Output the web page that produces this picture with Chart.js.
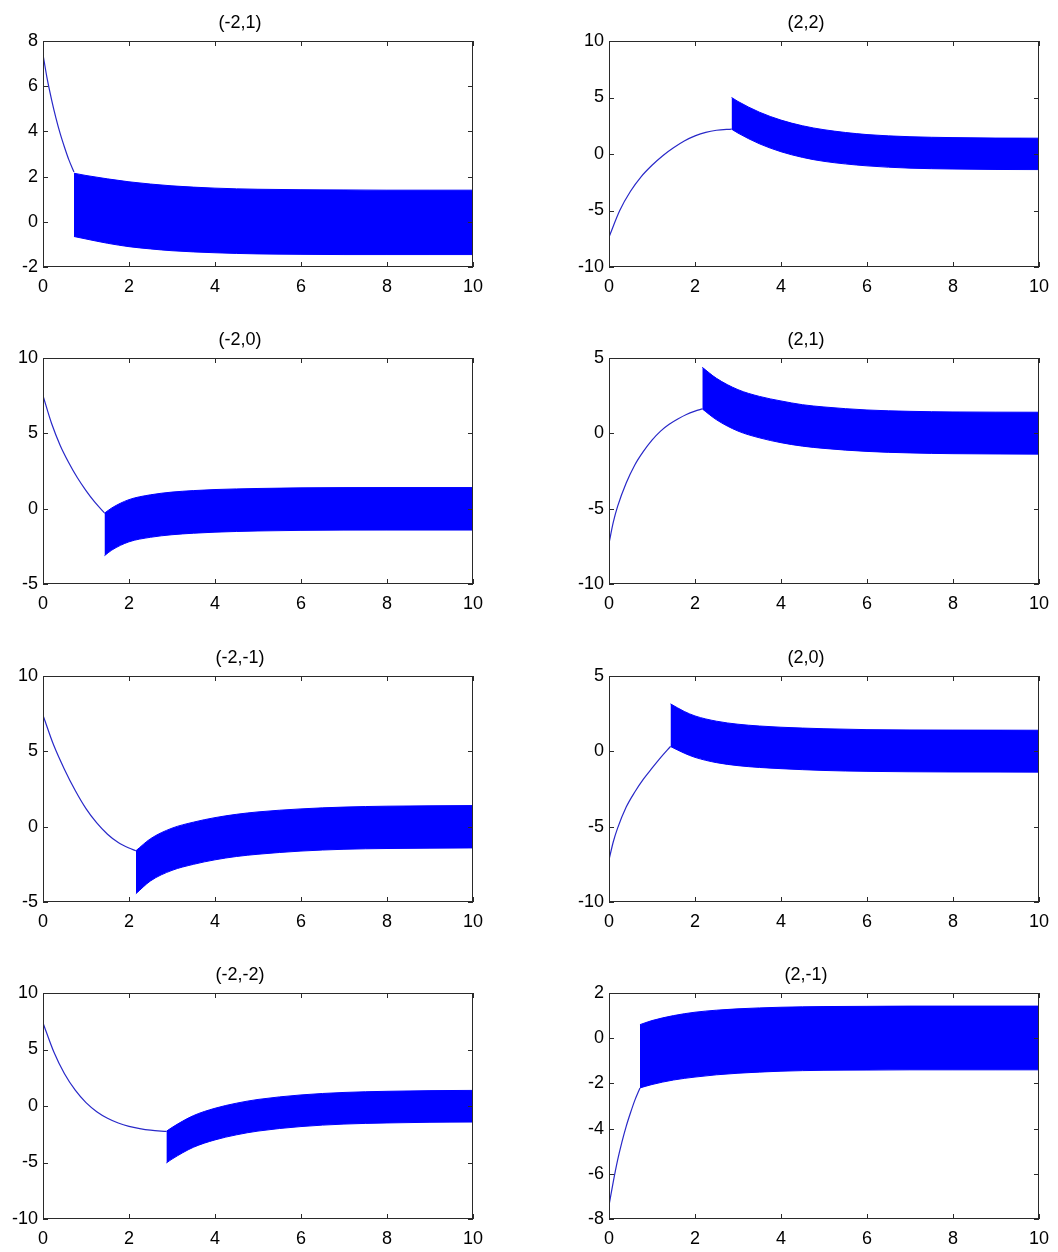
<!DOCTYPE html>
<html>
<head>
<meta charset="utf-8">
<script src="https://cdn.jsdelivr.net/npm/chart.js@4"></script>
<style>
  body { margin: 0; background: #fff; }
  #wrap { position: relative; width: 1058px; height: 1252px; }
  #wrap canvas { position: absolute; }
</style>
</head>
<body>
<div id="wrap"></div>
<script>
// panel order: left column top->bottom, right column top->bottom (row by row)
const titles = ["(-2,1)", "(2,2)", "(-2,0)", "(2,1)", "(-2,-1)", "(2,0)", "(-2,-2)", "(2,-1)"];
const yMin = [-2, -10, -5, -10, -5, -10, -10, -8];
const yMax = [8, 10, 10, 5, 10, 5, 10, 2];
const yStep = [2, 5, 5, 5, 5, 5, 5, 2];
const xTicks = [0, 2, 4, 6, 8, 10];

// (-2,1)
const curveT1 = [0, 0.1, 0.2, 0.3, 0.4, 0.5, 0.6, 0.72];
const curveY1 = [7.4, 6.3, 5.4, 4.6, 3.9, 3.3, 2.75, 2.2];
const bandT1 = [0.72, 1, 1.5, 2, 2.5, 3, 4, 5, 6, 7, 8, 9, 10];
const bandUp1 = [2.15, 2.05, 1.9, 1.77, 1.67, 1.59, 1.49, 1.44, 1.42, 1.41, 1.4, 1.4, 1.4];
const bandLo1 = [-0.65, -0.76, -0.95, -1.1, -1.2, -1.28, -1.37, -1.42, -1.44, -1.45, -1.45, -1.45, -1.45];

// (2,2)
const curveT2 = [0, 0.25, 0.5, 0.75, 1, 1.25, 1.5, 1.75, 2, 2.25, 2.5, 2.85];
const curveY2 = [-7.35, -5.0, -3.3, -2.0, -1.0, -0.15, 0.55, 1.15, 1.6, 1.92, 2.1, 2.2];
const bandT2 = [2.85, 3, 3.5, 4, 4.5, 5, 6, 7, 8, 9, 10];
const bandUp2 = [5.0, 4.65, 3.7, 3.0, 2.5, 2.15, 1.72, 1.53, 1.45, 1.41, 1.4];
const bandLo2 = [2.2, 1.85, 0.9, 0.2, -0.3, -0.65, -1.05, -1.25, -1.33, -1.37, -1.38];

// (-2,0)
const curveT3 = [0, 0.2, 0.4, 0.6, 0.8, 1.0, 1.2, 1.43];
const curveY3 = [7.5, 5.65, 4.2, 3.05, 2.05, 1.2, 0.45, -0.28];
const bandT3 = [1.43, 1.6, 2, 2.5, 3, 3.5, 4, 5, 6, 8, 10];
const bandUp3 = [-0.3, 0.05, 0.6, 0.92, 1.1, 1.2, 1.27, 1.34, 1.38, 1.4, 1.4];
const bandLo3 = [-3.12, -2.75, -2.2, -1.9, -1.73, -1.63, -1.56, -1.48, -1.44, -1.42, -1.42];

// (2,1)
const curveT4 = [0, 0.1, 0.2, 0.4, 0.6, 0.8, 1.0, 1.2, 1.4, 1.6, 1.8, 2.0, 2.17];
const curveY4 = [-7.3, -5.9, -4.85, -3.3, -2.1, -1.2, -0.45, 0.15, 0.6, 0.95, 1.25, 1.47, 1.62];
const bandT4 = [2.17, 2.5, 3, 3.5, 4, 4.5, 5, 6, 7, 8, 10];
const bandUp4 = [4.38, 3.65, 2.9, 2.45, 2.15, 1.9, 1.75, 1.55, 1.46, 1.42, 1.4];
const bandLo4 = [1.62, 0.9, 0.15, -0.3, -0.62, -0.85, -1.0, -1.2, -1.3, -1.35, -1.38];

// (-2,-1)
const curveT5 = [0, 0.25, 0.5, 0.75, 1.0, 1.25, 1.5, 1.75, 2.0, 2.16];
const curveY5 = [7.4, 5.4, 3.8, 2.4, 1.2, 0.25, -0.5, -1.05, -1.42, -1.6];
const bandT5 = [2.16, 2.5, 3, 3.5, 4, 4.5, 5, 6, 7, 8, 10];
const bandUp5 = [-1.6, -0.8, -0.1, 0.3, 0.6, 0.82, 0.98, 1.18, 1.3, 1.36, 1.4];
const bandLo5 = [-4.45, -3.6, -2.9, -2.5, -2.2, -1.98, -1.83, -1.62, -1.5, -1.45, -1.41];

// (2,0)
const curveT6 = [0, 0.1, 0.2, 0.4, 0.6, 0.8, 1.0, 1.2, 1.43];
const curveY6 = [-7.2, -6.0, -5.1, -3.7, -2.7, -1.85, -1.12, -0.42, 0.32];
const bandT6 = [1.43, 1.75, 2, 2.5, 3, 3.5, 4, 5, 6, 8, 10];
const bandUp6 = [3.15, 2.65, 2.35, 2.0, 1.8, 1.68, 1.6, 1.5, 1.44, 1.41, 1.4];
const bandLo6 = [0.32, -0.12, -0.4, -0.75, -0.95, -1.07, -1.15, -1.27, -1.33, -1.37, -1.38];

// (-2,-2)
const curveT7 = [0, 0.25, 0.5, 0.75, 1.0, 1.25, 1.5, 1.75, 2.0, 2.25, 2.5, 2.87];
const curveY7 = [7.35, 4.8, 2.85, 1.4, 0.3, -0.5, -1.08, -1.5, -1.8, -2.0, -2.14, -2.25];
const bandT7 = [2.87, 3, 3.5, 4, 4.5, 5, 6, 7, 8, 9, 10];
const bandUp7 = [-2.24, -1.9, -0.85, -0.2, 0.25, 0.58, 0.98, 1.2, 1.3, 1.36, 1.38];
const bandLo7 = [-5.04, -4.7, -3.65, -3.0, -2.55, -2.22, -1.82, -1.6, -1.5, -1.44, -1.42];

// (2,-1)
const curveT8 = [0, 0.1, 0.2, 0.3, 0.4, 0.5, 0.6, 0.72];
const curveY8 = [-7.4, -6.35, -5.4, -4.6, -3.9, -3.3, -2.75, -2.2];
const bandT8 = [0.72, 1, 1.5, 2, 2.5, 3, 4, 5, 6, 7, 8, 9, 10];
const bandUp8 = [0.6, 0.78, 1.0, 1.15, 1.24, 1.3, 1.37, 1.4, 1.41, 1.42, 1.42, 1.42, 1.42];
const bandLo8 = [-2.2, -2.05, -1.85, -1.72, -1.62, -1.55, -1.46, -1.42, -1.41, -1.4, -1.4, -1.4, -1.4];

const curvesT = [curveT1, curveT2, curveT3, curveT4, curveT5, curveT6, curveT7, curveT8];
const curvesY = [curveY1, curveY2, curveY3, curveY4, curveY5, curveY6, curveY7, curveY8];
const bandsT = [bandT1, bandT2, bandT3, bandT4, bandT5, bandT6, bandT7, bandT8];
const bandsUp = [bandUp1, bandUp2, bandUp3, bandUp4, bandUp5, bandUp6, bandUp7, bandUp8];
const bandsLo = [bandLo1, bandLo2, bandLo3, bandLo4, bandLo5, bandLo6, bandLo7, bandLo8];

const FONT = { family: "'Liberation Sans', Arial, sans-serif", size: 18 };
const colLeft = [0, 566];
const rowTop = [0, 317, 635, 952];

function pts(xs, ys) {
  return xs.map((x, i) => ({ x: x, y: ys[i] }));
}

// matlab style box with inward ticks on all four sides
const boxTicks = {
  id: "boxTicks",
  afterDatasetsDraw(chart) {
    const { ctx, chartArea: a, scales } = chart;
    const x = scales.x, y = scales.y;
    ctx.save();
    ctx.strokeStyle = "#2a2a2a";
    ctx.lineWidth = 1;
    ctx.beginPath();
    x.ticks.forEach(t => {
      const px = Math.round(x.getPixelForValue(t.value)) + 0.5;
      ctx.moveTo(px, a.bottom); ctx.lineTo(px, a.bottom - 5);
      ctx.moveTo(px, a.top); ctx.lineTo(px, a.top + 5);
    });
    y.ticks.forEach(t => {
      const py = Math.round(y.getPixelForValue(t.value)) + 0.5;
      ctx.moveTo(a.left, py); ctx.lineTo(a.left + 5, py);
      ctx.moveTo(a.right, py); ctx.lineTo(a.right - 5, py);
    });
    ctx.stroke();
    ctx.strokeRect(Math.round(a.left) + 0.5, Math.round(a.top) + 0.5,
      Math.round(a.width) - 1, Math.round(a.height) - 1);
    ctx.restore();
  }
};

const wrap = document.getElementById("wrap");

titles.forEach((title, i) => {
  const cv = document.createElement("canvas");
  cv.width = 492;
  cv.height = 297;
  cv.style.left = colLeft[i % 2] + "px";
  cv.style.top = rowTop[Math.floor(i / 2)] + "px";
  wrap.appendChild(cv);

  new Chart(cv, {
    type: "line",
    data: {
      datasets: [
        {
          data: pts(curvesT[i], curvesY[i]),
          borderColor: "#2828c8",
          borderWidth: 1.2,
          pointRadius: 0,
          cubicInterpolationMode: "monotone",
          fill: false
        },
        {
          data: pts(bandsT[i], bandsUp[i]),
          borderColor: "#0000ff",
          borderWidth: 1,
          pointRadius: 0,
          cubicInterpolationMode: "monotone",
          fill: false
        },
        {
          data: pts(bandsT[i], bandsLo[i]),
          borderColor: "#0000ff",
          backgroundColor: "#0000ff",
          borderWidth: 1,
          pointRadius: 0,
          cubicInterpolationMode: "monotone",
          fill: "-1"
        }
      ]
    },
    options: {
      responsive: false,
      animation: false,
      devicePixelRatio: 1,
      layout: { padding: { top: 0, right: 12, bottom: 0, left: 0 } },
      plugins: {
        legend: { display: false },
        tooltip: { enabled: false },
        title: {
          display: true,
          text: title,
          color: "#000",
          font: { family: FONT.family, size: 18, weight: "normal" },
          padding: { top: 12.4, bottom: 7 }
        }
      },
      scales: {
        x: {
          type: "linear",
          min: 0,
          max: 10,
          afterBuildTicks: s => { s.ticks = xTicks.map(v => ({ value: v })); },
          afterFit: s => { s.height = 30; },
          grid: { display: false, drawTicks: false },
          border: { display: false },
          ticks: { color: "#000", font: FONT, padding: 9, maxRotation: 0 }
        },
        y: {
          type: "linear",
          min: yMin[i],
          max: yMax[i],
          afterFit: s => { s.width = 43; },
          grid: { display: false, drawTicks: false },
          border: { display: false },
          ticks: { color: "#000", font: FONT, padding: 5, stepSize: yStep[i] }
        }
      }
    },
    plugins: [boxTicks]
  });
});
</script>
</body>
</html>
